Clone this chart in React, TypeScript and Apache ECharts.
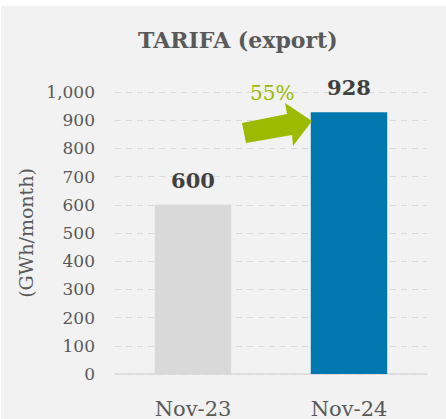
import React, { useEffect, useRef } from "react";
import * as echarts from "echarts";

const categories = ["Nov-23", "Nov-24"];
const values = [600, 928];
const barColors = ["#d9d9d9", "#0077ae"];
const yTicks = [0, 100, 200, 300, 400, 500, 600, 700, 800, 900, 1000];
const growthLabel = "55%";
const titleText = "TARIFA (export)";
const yAxisName = "(GWh/month)";

const FONT = "DejaVu Serif";

export default function App() {
  const ref = useRef<HTMLDivElement>(null);
  useEffect(() => {
    document.body.style.margin = "0";
    const chart = echarts.init(ref.current!, null, { renderer: "svg" });
    chart.setOption({
      animation: false,
      backgroundColor: "#ffffff",
      title: [
        {
          text: titleText,
          left: 133,
          top: 24,
          textStyle: { fontFamily: FONT, fontSize: 22, fontWeight: "bold", color: "#595959" },
        },
        {
          text: growthLabel,
          left: 250,
          top: 83,
          padding: 0,
          textStyle: { fontFamily: FONT, fontSize: 20, fontWeight: "normal", color: "#9cba00" },
        },
      ],
      grid: { left: 115, right: 19, top: 92, bottom: 42 },
      xAxis: {
        type: "category",
        data: categories,
        axisLine: { show: true, lineStyle: { color: "#d9d9d9", width: 1.5 } },
        axisTick: { show: false },
        axisLabel: { fontFamily: FONT, fontSize: 21, color: "#595959", margin: 24 },
      },
      yAxis: {
        type: "value",
        min: yTicks[0],
        max: yTicks[yTicks.length - 1],
        interval: 100,
        name: yAxisName,
        nameLocation: "middle",
        nameGap: 80,
        nameTextStyle: { fontFamily: FONT, fontSize: 19, color: "#595959" },
        axisLine: { show: false },
        axisTick: { show: false },
        axisLabel: {
          fontFamily: FONT,
          fontSize: 17,
          color: "#595959",
          margin: 20,
          formatter: (v: number) => v.toLocaleString("en-US"),
        },
        splitLine: { lineStyle: { color: "#d9d9d9", type: [6, 5], width: 1 } },
      },
      graphic: [
        {
          type: "rect",
          z: -10,
          shape: { x: 1, y: 6, width: 445, height: 413 },
          style: { fill: "#f2f2f2" },
          silent: true,
        },
        {
          type: "polygon",
          z: 10,
          shape: {
            points: [
              [242, 123],
              [287, 114],
              [285, 103],
              [312, 121],
              [293, 146],
              [292, 135],
              [246, 143],
            ],
          },
          style: { fill: "#9cba00" },
        },
      ],
      series: [
        {
          type: "bar",
          barWidth: "49%",
          data: values.map((v, i) => ({ value: v, itemStyle: { color: barColors[i] } })),
          label: {
            show: true,
            position: "top",
            distance: 14,
            fontFamily: FONT,
            fontSize: 21,
            fontWeight: "bold",
            color: "#404040",
          },
        },
      ],
    });
    return () => chart.dispose();
  }, []);
  return <div ref={ref} style={{ width: 446, height: 419 }} />;
}
